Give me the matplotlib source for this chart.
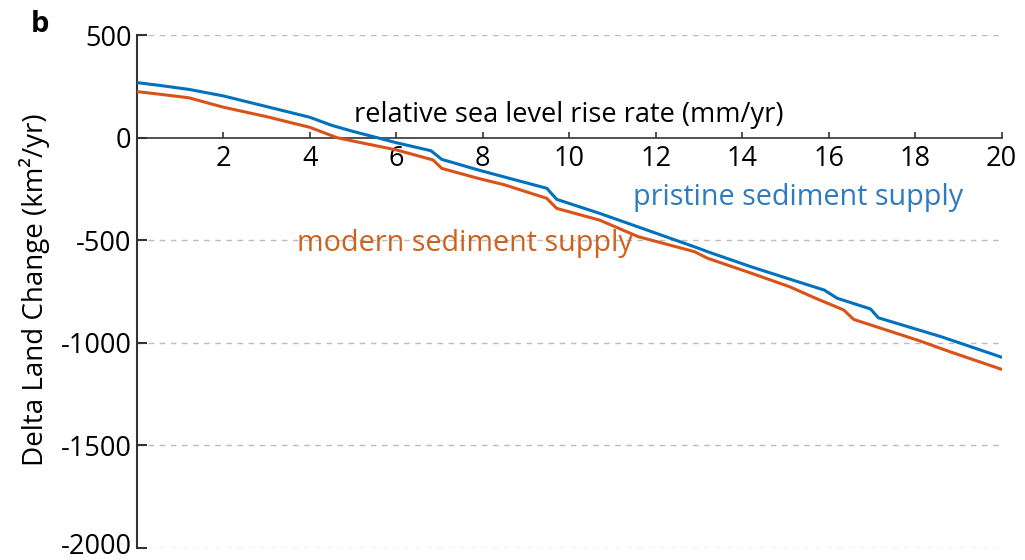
import matplotlib
matplotlib.use('Agg')
import matplotlib.pyplot as plt
import matplotlib.transforms as mtransforms

# pristine sediment supply (blue)
x_pristine = [0, 0.5, 1.2, 2.0, 3.0, 4.0, 4.5, 5.0, 5.55, 6.0, 6.8, 7.05, 7.9, 8.5, 9.48, 9.71,
              10.7, 11.9, 13.0, 13.2, 14.2, 15.0, 15.9, 16.2, 16.97, 17.15, 18.0, 18.6, 19.3, 20.0]
y_pristine = [268, 255, 235, 203, 151, 99, 60, 30, 0, -25, -64, -106, -158, -192, -247, -301,
              -369, -458, -540, -556, -629, -683, -743, -783, -835, -878, -932, -970, -1020, -1070]

# modern sediment supply (orange)
x_modern = [0, 0.5, 1.2, 2.0, 3.0, 4.0, 4.62, 5.0, 6.0, 6.85, 7.05, 7.9, 8.5, 9.48, 9.71,
            10.7, 11.6, 12.9, 13.2, 14.2, 15.1, 15.7, 16.35, 16.58, 17.5, 18.1, 18.8, 19.4, 20.0]
y_modern = [224, 212, 194, 148, 102, 50, 0, -17, -60, -109, -150, -199, -230, -296, -345,
            -402, -483, -556, -588, -660, -727, -783, -840, -886, -949, -990, -1043, -1086, -1129]

xticks = [2, 4, 6, 8, 10, 12, 14, 16, 18, 20]
yticks = [500, 0, -500, -1000, -1500, -2000]

plt.rcParams['font.family'] = ['Open Sans', 'DejaVu Sans']

fig = plt.figure(figsize=(10.25, 5.6), dpi=100)
ax = fig.add_axes([137/1025, 1-548/560, (1001.5-137)/1025, (548-35)/560])

blue = '#0072BD'
orange = '#D95319'

ax.plot(x_pristine, y_pristine, color=blue, lw=2.2, zorder=3)
ax.plot(x_modern, y_modern, color=orange, lw=2.2, zorder=3)

ax.set_xlim(0, 20)
ax.set_ylim(-2000, 500)

ax.spines['top'].set_visible(False)
ax.spines['right'].set_visible(False)
ax.spines['bottom'].set_position(('data', 0))
ax.spines['left'].set_color('#333333')
ax.spines['bottom'].set_color('#333333')
ax.spines['left'].set_linewidth(1.5)
ax.spines['bottom'].set_linewidth(1.2)

ax.set_xticks(xticks)
ax.set_yticks(yticks)
ax.set_yticklabels([str(v) for v in yticks])
ax.tick_params(axis='y', direction='in', length=7, width=1.5, color='#333333',
               labelsize=19.5, pad=4)
ax.tick_params(axis='x', direction='in', length=4, width=1.2, color='#333333',
               labelsize=19.5, pad=5)

# nudge the bottom label up so it stays inside the picture
lbl = ax.get_yticklabels()[-1]
lbl.set_transform(lbl.get_transform() + mtransforms.ScaledTranslation(0, 3/72, fig.dpi_scale_trans))

for v in yticks:
    if v != 0:
        ax.axhline(v, color='#bbbbbb', ls=(0, (4, 4)), lw=1, zorder=1)

ax.text(10, 75, 'relative sea level rise rate (mm/yr)', ha='center', va='baseline',
        fontsize=19.5)
ax.text(11.48, -328, 'pristine sediment supply', color='#2f7bbf', fontsize=20.7,
        va='baseline')
ax.text(3.70, -553, 'modern sediment supply', color='#d0601c', fontsize=20.7,
        va='baseline')

fig.text(35/1025, 1-290/560, 'Delta Land Change (km\u00b2/yr)', rotation=90,
         ha='center', va='center', fontsize=20)
fig.text(40/1025, 1-25/560, 'b', fontsize=21, fontweight='bold', ha='center', va='center')

fig.savefig('out.png', dpi=100)
